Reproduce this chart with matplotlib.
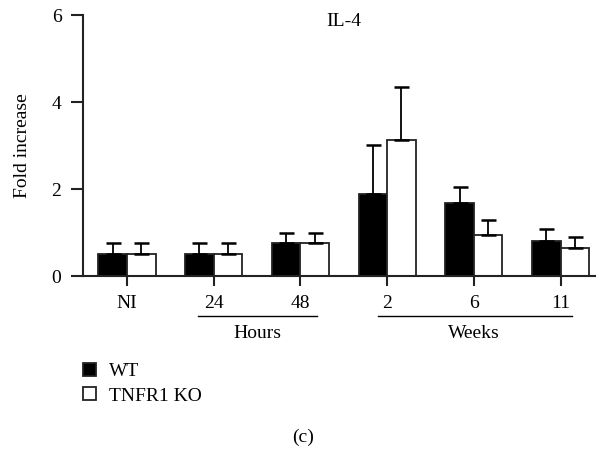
import matplotlib
matplotlib.use("Agg")
import matplotlib.pyplot as plt
import matplotlib.transforms as mtransforms
import numpy as np

plt.rcParams['font.family'] = ['Liberation Serif', 'DejaVu Serif']

categories = ["NI", "24", "48", "2", "6", "11"]
wt_values = [0.50, 0.50, 0.75, 1.88, 1.69, 0.81]
wt_err = [0.27, 0.27, 0.25, 1.13, 0.35, 0.27]
ko_values = [0.50, 0.50, 0.75, 3.14, 0.94, 0.64]
ko_err = [0.27, 0.27, 0.25, 1.21, 0.35, 0.26]
group_labels = ["Hours", "Weeks"]
group_spans = [(1, 2), (3, 5)]
series_names = ["WT", "TNFR1 KO"]

FS = 14
fig = plt.figure(figsize=(5.97, 4.51), dpi=100)
ax = fig.add_axes([0.139, 0.388, 0.858, 0.578])

x = np.arange(len(categories))
w = 0.33
lw = 1.3
ekw = dict(ecolor="black", elinewidth=1.3, capsize=5.4, capthick=1.8)
ax.bar(x - w / 2, wt_values, w, color="black", edgecolor="#222222", linewidth=lw,
       yerr=[np.zeros(len(x)), wt_err], error_kw=ekw, label=series_names[0], zorder=2)
ax.bar(x + w / 2, ko_values, w, color="white", edgecolor="#222222", linewidth=lw,
       yerr=[np.zeros(len(x)), ko_err], error_kw=ekw, label=series_names[1], zorder=2)

ax.set_xlim(-0.508, 5.40)
ax.set_ylim(0, 6)
ax.set_yticks([0, 2, 4, 6])
ax.set_xticks(x)
ax.set_xticklabels(categories)
for s in ["top", "right"]:
    ax.spines[s].set_visible(False)
for s in ["left", "bottom"]:
    ax.spines[s].set_linewidth(1.5)
    ax.spines[s].set_color("#222222")
ax.tick_params(axis="y", length=9, width=1.5, labelsize=FS, pad=6.5, color="#222222")
ax.tick_params(axis="x", length=7, width=1.5, labelsize=FS, pad=7, color="#222222")
ax.set_ylabel("Fold increase", fontsize=FS)
ax.yaxis.label.set_va("center")
ax.yaxis.set_label_coords(-0.119, 0.5)

trans = mtransforms.blended_transform_factory(ax.transData, ax.transAxes)
ax.text(2.5, 0.976, "IL-4", transform=trans, ha="center", va="center", fontsize=FS)

offsets = [(-0.185, 0.196), (-0.104, 0.127)]
for lab, (a, b), (oa, ob) in zip(group_labels, group_spans, offsets):
    ax.plot([a + oa, b + ob], [-0.1515, -0.1515], color="black", lw=1.0,
            transform=trans, clip_on=False)
    ax.text((a + b) / 2, -0.219, lab, transform=trans, ha="center", va="center", fontsize=FS)

handles, labels = ax.get_legend_handles_labels()
fig.legend(handles, labels, loc="upper left", bbox_to_anchor=(0.139, 0.195), frameon=False,
           fontsize=FS, handlelength=0.67, handleheight=0.67, handletextpad=0.67,
           labelspacing=0.34, borderpad=0, borderaxespad=0)

fig.text(0.508, 0.031, "(c)", ha="center", va="center", fontsize=FS)

fig.savefig("out.png", dpi=100)
